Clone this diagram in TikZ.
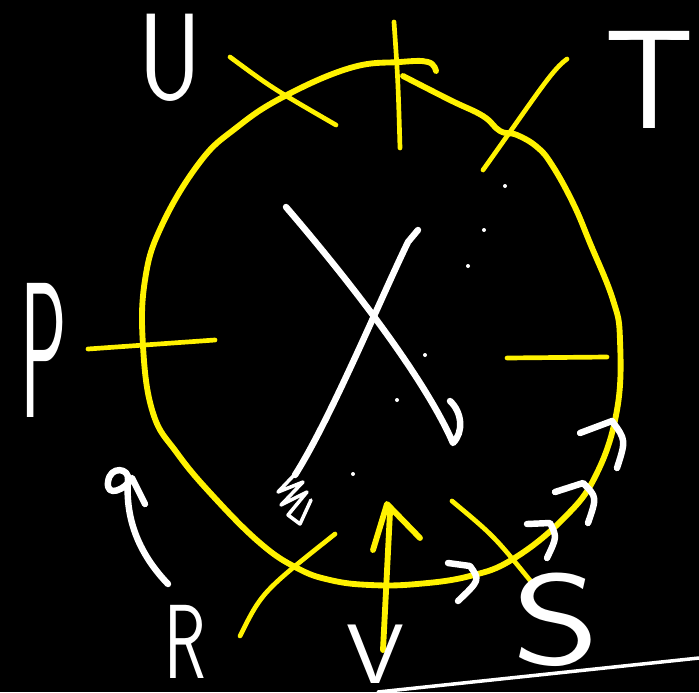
\documentclass[tikz,border=0pt]{standalone}
\usetikzlibrary{arrows.meta}
\tikzset{
  ring/.style={draw=yellow, line width=5pt, line cap=round, line join=round},
  ticky/.style={draw=yellow, line width=4pt, line cap=round, line join=round},
  chalk/.style={draw=white, line width=5.5pt, line cap=round, line join=round},
  letter/.style={text=white, inner sep=0pt, font=\sffamily\fontsize{#1}{#1}\selectfont}
}

\begin{document}
\begin{tikzpicture}[x=0.03cm, y=-0.03cm]
  \fill[black] (0,0) rectangle (699,692);
  \useasboundingbox (0,0) rectangle (699,692);

  % the yellow ring
  \draw[ring] plot[smooth, tension=0.7] coordinates {(403,76) (450,100) (483,116) (500,131)
    (517,135) (537,147) (552,165) (573,203) (590,243) (613,300) (620,340) (617,410)
    (596,475) (563,519) (513,559) (470,576) (417,584) (370,585) (330,580) (297,568)
    (260,543) (213,496) (177,453) (153,413) (143,346) (145,280) (162,225) (200,162)
    (236,128) (283,97) (350,68) (400,62) (428,62) (436,71)};

  % marks on the ring
  \draw[ticky] (230,57) .. controls (272,88) .. (336,125);
  \draw[ticky] (394,22) .. controls (398,80) .. (400,148);
  \draw[ticky] (567,59) .. controls (552,70) and (540,90) .. (483,170);
  \draw[ticky] (88,349) -- (215,340);
  \draw[ticky] (507,358) -- (607,357);
  \draw[ticky] (240,636) .. controls (262,592) .. (335,534);
  \draw[ticky] (452,501) .. controls (494,536) .. (533,584);

  % yellow arrow up through the bottom
  \draw[ring] (383,650) -- (390,512);
  \draw[ring] (373,550) -- (387,504) -- (420,538);

  % white cross in the middle
  \draw[chalk] (286,207) .. controls (370,305) and (430,390) .. (453,443)
    .. controls (464,432) and (462,412) .. (450,401);
  \draw[chalk] (418,230) -- (408,242) .. controls (380,300) and (330,420) .. (295,475);
  \draw[chalk, line width=3pt] (297,472) -- (278,492) -- (303,482) -- (281,505)
    -- (307,492) -- (288,515) -- (300,524) -- (311,500);

  % little dots
  \foreach \p in {(505,186), (484,230), (468,266), (425,355), (397,400), (353,474)}
    \fill[white] \p circle (2);

  % direction marks along the ring
  \draw[chalk] (580,433) -- (612,421) .. controls (626,440) .. (617,468);
  \draw[chalk] (555,492) -- (583,483) .. controls (597,497) .. (588,523);
  \draw[chalk] (527,524) -- (550,523) .. controls (557,537) .. (547,558);
  \draw[chalk] (448,563) -- (470,566) .. controls (480,580) .. (458,601);

  % curved arrow by R
  \draw[chalk] (168,584) .. controls (140,555) and (125,520) .. (128,480)
    .. controls (130,468) and (110,465) .. (108,482)
    .. controls (106,498) and (125,490) .. (132,478) -- (145,504);

  % base line
  \draw[chalk, line width=3pt] (378,692) -- (699,658);

  % labels
  \node[letter=120] (t) at (650,80) {T};
  \node[letter=105, xscale=0.8] (u) at (170,58) {U};
  \node[letter=90, xscale=0.65] (r) at (185,642) {R};
  \node[letter=165, xscale=0.4] (p) at (44,350) {P};
  \node[letter=110, xscale=1.3] (s) at (556,620) {S};
  \node[letter=72, xscale=1.1] (v) at (375,654) {V};
\end{tikzpicture}
\end{document}
